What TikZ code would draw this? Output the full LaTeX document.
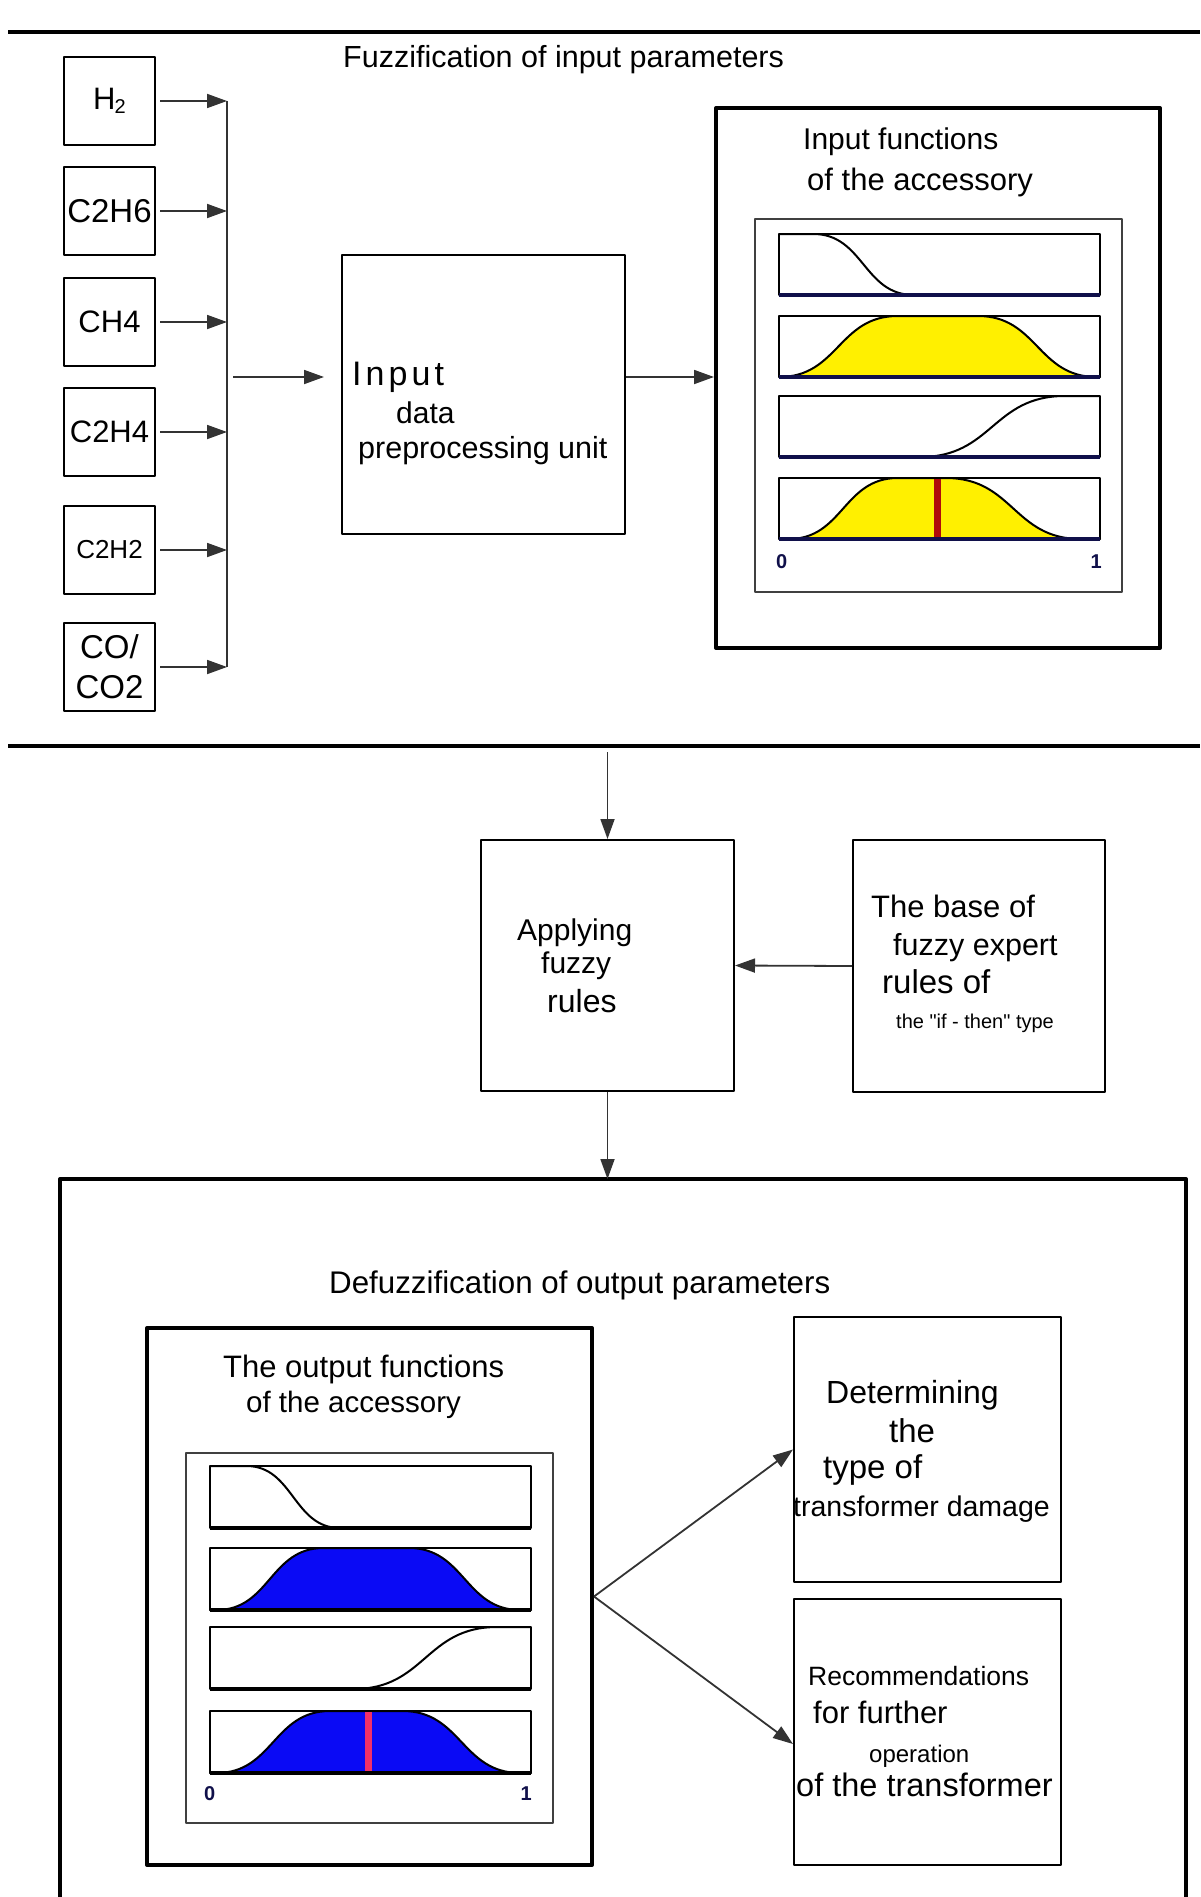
\documentclass[tikz,border=0pt]{standalone}
\usepackage{fontspec}
\setmainfont{Liberation Sans}
\newfontfamily\spaced[LetterSpace=12]{Liberation Sans}
\usetikzlibrary{arrows.meta}
\newcommand\fsz[1]{\fontsize{#1}{#1}\selectfont}
\newcommand\dq{\XeTeXglyph\XeTeXcharglyph"22\relax}
\definecolor{fuzzyellow}{HTML}{FFF000}
\definecolor{fuzzblue}{HTML}{0A0AF5}
\definecolor{cutred}{HTML}{B00A0A}
\definecolor{cutpink}{HTML}{F0306A}
\definecolor{axisnavy}{HTML}{10104A}
\tikzset{
  gas/.style={draw, line width=2pt, minimum width=91pt, minimum height=88pt, inner sep=0pt, align=center},
  block/.style={draw, line width=2pt, inner sep=0pt},
  frame/.style={draw, line width=4pt, inner sep=0pt},
  txt/.style={anchor=base west, inner sep=0pt},
  feed/.style={->, line width=1.8pt, draw=black!80},
  mf/.style={line width=2pt},
  pbox/.style={line width=2.4pt},
}
\begin{document}
\begin{tikzpicture}[x=1pt, y=-1pt, line join=round, >={Triangle[length=20pt,width=14pt]}]
  \def\zfall#1#2{\draw[mf] (0,1) -- (#1,1) .. controls ({(#1+#2)/2},1) and ({(#1+#2)/2},0) .. (#2,0) -- (1,0);}
  \def\srise#1#2{\draw[mf] (0,0) -- (#1,0) .. controls ({(#1+#2)/2},0) and ({(#1+#2)/2},1) .. (#2,1) -- (1,1);}
  \def\bump#1#2#3#4#5{\draw[mf, fill=#5] (0,0) -- (#1,0) .. controls ({(#1+#2)/2},0) and ({(#1+#2)/2},1) .. (#2,1) -- (#3,1) .. controls ({(#3+#4)/2},1) and ({(#3+#4)/2},0) .. (#4,0) -- (1,0) -- cycle;}
  \def\pframe#1{\draw[pbox] (0,0) rectangle (1,1); \draw[line width=4pt, draw=#1] (0,0) -- (1,0);}
  \useasboundingbox (0,0) rectangle (1200,1897);
  \fill[white] (0,0) rectangle (1200,1897);

  % rules between the parts
  \coordinate (tl) at (8,32); \coordinate (tr) at (1200,32);
  \coordinate (ml) at (8,746); \coordinate (mr) at (1200,746);
  \draw[line width=4.5pt] (tl) -- (tr);
  \draw[line width=4.5pt] (ml) -- (mr);

  % fuzzification
  \node[txt, font=\fsz{30.5}] (fuzz) at (343,68) {Fuzzification of input parameters};
  \node[gas, font=\fsz{31}] (h2) at (109.5,101) {H\kern-1pt\raisebox{-4pt}{\fsz{20}2}};
  \node[gas, font=\fsz{33}] (c2h6) at (109.5,211) {C2H6};
  \node[gas, font=\fsz{31}] (ch4) at (109.5,322) {CH4};
  \node[gas, font=\fsz{31}] (c2h4) at (109.5,432) {C2H4};
  \node[gas, font=\fsz{26}] (c2h2) at (109.5,550) {C2H2};
  \node[gas, font={\fontsize{33}{40}\selectfont}] (co) at (109.5,667) {CO/\\CO2};
  \coordinate (bt) at (227,101); \coordinate (bb) at (227,667);
  \draw[line width=1.8pt, draw=black!80] (bt) -- (bb);
  \draw[feed, shorten <=4pt] (h2.east) -- (h2.east -| bt);
  \draw[feed, shorten <=4pt] (c2h6.east) -- (c2h6.east -| bt);
  \draw[feed, shorten <=4pt] (ch4.east) -- (ch4.east -| bt);
  \draw[feed, shorten <=4pt] (c2h4.east) -- (c2h4.east -| bt);
  \draw[feed, shorten <=4pt] (c2h2.east) -- (c2h2.east -| bt);
  \draw[feed, shorten <=4pt] (co.east) -- (co.east -| bt);

  \node[block, minimum width=283pt, minimum height=279pt] (inp) at (483.5,394.5) {};
  \node[txt, font={\spaced\fsz{34}}] (inpA) at (352,385) {Input};
  \node[txt, font=\fsz{30}] (inpB) at (396,423) {data};
  \node[txt, font=\fsz{30.5}] (inpC) at (358,458) {preprocessing unit};
  \coordinate (jn) at (227,377);
  \draw[feed, shorten <=6pt, shorten >=17pt] (jn) -- (jn -| inp.west);

  \node[frame, minimum width=444pt, minimum height=540pt] (fin) at (938,378) {};
  \draw[feed] (jn -| inp.east) -- (jn -| fin.west);
  \node[txt, font=\fsz{30}] (finA) at (803,150) {Input functions};
  \node[txt, font=\fsz{31}] (finB) at (807,190) {of the accessory};
  \draw[line width=1.8pt, draw=black!75] (755,219) rectangle (1122,592);
  \begin{scope}[shift={(779,295)}, x=321pt, y=61pt]
    \zfall{0.107}{0.42} \pframe{axisnavy}
  \end{scope}
  \begin{scope}[shift={(779,377)}, x=321pt, y=61pt]
    \bump{0.0}{0.37}{0.62}{0.99}{fuzzyellow} \pframe{axisnavy}
  \end{scope}
  \begin{scope}[shift={(779,457)}, x=321pt, y=61pt]
    \srise{0.44}{0.89} \pframe{axisnavy}
  \end{scope}
  \begin{scope}[shift={(779,539)}, x=321pt, y=61pt]
    \bump{0.03}{0.37}{0.52}{0.94}{fuzzyellow}
    \draw[line width=7pt, draw=cutred] (0.494,0) -- (0.494,1);
    \pframe{axisnavy}
  \end{scope}
  \node[txt, font=\fsz{20}\bfseries, text=axisnavy] (fin0) at (776,568) {0};
  \node[anchor=base east, inner sep=0pt, font=\fsz{20}\bfseries, text=axisnavy] (fin1) at (1102,568) {1};

  % fuzzy rules
  \node[block, minimum width=253pt, minimum height=251pt] (app) at (607.5,965.5) {};
  \node[txt, font=\fsz{30}] (appA) at (517,940) {Applying};
  \node[txt, font=\fsz{30}] (appB) at (541,973) {fuzzy};
  \node[txt, font=\fsz{32}] (appC) at (547,1012) {rules};
  \node[block, minimum width=252pt, minimum height=252pt] (base) at (979,966) {};
  \node[txt, font=\fsz{31}] (baseA) at (871,917) {The base of};
  \node[txt, font=\fsz{30.5}] (baseB) at (893,955) {fuzzy expert};
  \node[txt, font=\fsz{33}] (baseC) at (882,993) {rules of};
  \node[txt, font=\fsz{20}] (baseD) at (896,1028) {the \dq if - then\dq{} type};
  \draw[feed, shorten <=6pt] (ml -| app.north) -- (app.north);
  \draw[feed] (base.west) -- (app.east);

  % defuzzification
  \coordinate (dtl) at (60,1179); \coordinate (dtr) at (1186,1179);
  \draw[line width=4pt] (60,1900) |- (dtl) -- (dtr) -- (1186,1900);
  \draw[feed] (app.south) -- (app.south |- dtl);
  \node[txt, font=\fsz{31.3}] (defuzz) at (329,1293) {Defuzzification of output parameters};

  \node[frame, minimum width=445pt, minimum height=537pt] (fout) at (369.5,1596.5) {};
  \node[txt, font=\fsz{31}] (foutA) at (223,1377) {The output functions};
  \node[txt, font=\fsz{29.5}] (foutB) at (246,1412) {of the accessory};
  \draw[line width=1.8pt, draw=black!75] (186,1453) rectangle (553,1823);
  \begin{scope}[shift={(210,1528)}, x=321pt, y=62pt]
    \zfall{0.114}{0.405} \pframe{black}
  \end{scope}
  \begin{scope}[shift={(210,1610)}, x=321pt, y=62pt]
    \bump{0.02}{0.353}{0.62}{0.967}{fuzzblue} \pframe{black}
  \end{scope}
  \begin{scope}[shift={(210,1689)}, x=321pt, y=62pt]
    \srise{0.447}{0.894} \pframe{black}
  \end{scope}
  \begin{scope}[shift={(210,1773)}, x=321pt, y=62pt]
    \bump{0.02}{0.374}{0.6}{0.967}{fuzzblue}
    \draw[line width=7pt, draw=cutpink] (0.494,0) -- (0.494,1);
    \pframe{black}
  \end{scope}
  \node[txt, font=\fsz{20}\bfseries, text=axisnavy] (fout0) at (204,1800) {0};
  \node[anchor=base east, inner sep=0pt, font=\fsz{20}\bfseries, text=axisnavy] (fout1) at (532,1800) {1};

  \node[block, minimum width=267pt, minimum height=265pt] (det) at (927.5,1449.5) {};
  \node[txt, font=\fsz{32}] (detA) at (826,1403) {Determining};
  \node[txt, font=\fsz{33}] (detB) at (889,1442) {the};
  \node[txt, font=\fsz{33}] (detC) at (823,1478) {type of};
  \node[txt, font=\fsz{28.5}] (detD) at (793,1516) {transformer damage};
  \node[block, minimum width=267pt, minimum height=266pt] (rec) at (927.5,1732) {};
  \node[txt, font=\fsz{26.5}] (recA) at (808,1685) {Recommendations};
  \node[txt, font=\fsz{31}] (recB) at (813,1723) {for further};
  \node[txt, font=\fsz{24}] (recC) at (869,1762) {operation};
  \node[txt, font=\fsz{32.5}] (recD) at (796,1796) {of the transformer};
  \draw[feed] (fout.east) -- (det.west);
  \draw[feed] (fout.east) -- ([yshift=-12pt]rec.west);
\end{tikzpicture}
\end{document}
